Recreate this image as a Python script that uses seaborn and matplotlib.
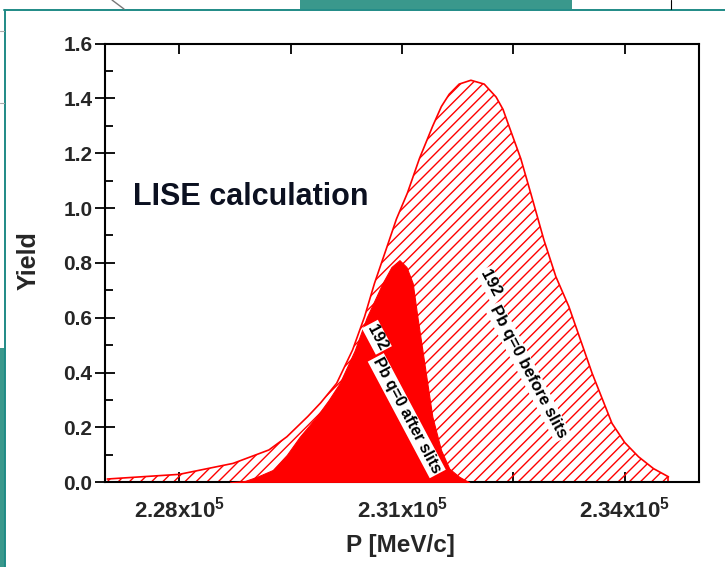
import matplotlib
matplotlib.use("Agg")
import matplotlib.pyplot as plt
import matplotlib.patches as mpatches
import matplotlib.lines as mlines
from matplotlib.ticker import MultipleLocator, FixedLocator, FuncFormatter
import seaborn as sns
import pandas as pd

# ---- data ----
before_p = [227030, 228000, 228725, 229208, 229449, 229731, 229905, 230120, 230335,
            230496, 230630, 230787, 230925, 231073, 231234, 231412, 231530, 231636,
            231770, 231928, 232107, 232267, 232360, 232442, 232600, 232733, 232911,
            233072, 233247, 233560, 233828, 234000, 234186, 234387, 234589]
before_y = [0.012, 0.029, 0.069, 0.118, 0.166, 0.24, 0.29, 0.361, 0.483,
            0.604, 0.726, 0.85, 0.96, 1.055, 1.18, 1.298, 1.37, 1.415,
            1.452, 1.466, 1.452, 1.405, 1.36, 1.298, 1.18, 1.055, 0.884,
            0.75, 0.641, 0.398, 0.215, 0.145, 0.093, 0.05, 0.02]

after_p = [228684, 228886, 229046, 229261, 229449, 229623, 229852, 230013, 230160,
           230362, 230523, 230738, 230858, 230966, 231060, 231144, 231207, 231274,
           231341, 231408, 231525, 231637, 231771, 231905]
after_y = [0.0, 0.005, 0.02, 0.045, 0.10, 0.166, 0.24, 0.30, 0.361,
           0.48, 0.60, 0.726, 0.785, 0.81, 0.785, 0.726, 0.604, 0.483,
           0.361, 0.24, 0.118, 0.05, 0.02, 0.0]

x_major = [228000, 231000, 234000]
x_minor = [229500, 232500]
label_before = "Pb q=0 before slits"
label_after = "Pb q=0 after slits"
iso = "192"
title_text = "LISE calculation"
xlabel = "P [MeV/c]"
ylabel = "Yield"

sns.set_theme(style="white")
plt.rcParams["font.family"] = ["Liberation Sans", "DejaVu Sans"]
plt.rcParams["font.weight"] = "bold"
plt.rcParams["mathtext.fontset"] = "custom"
plt.rcParams["mathtext.rm"] = "Liberation Sans:bold"
plt.rcParams["mathtext.bf"] = "Liberation Sans:bold"
plt.rcParams["mathtext.default"] = "bf"
plt.rcParams["hatch.linewidth"] = 1.0
plt.rcParams["hatch.color"] = "#ff0000"

W, H = 725, 567
fig = plt.figure(figsize=(W / 100, H / 100), dpi=100)
fig.patch.set_facecolor("white")

# ---- slide decorations around the chart ----
teal = "#3a988c"
teal_dark = "#1f8a86"
def px_rect(x0, y0, x1, y1, **kw):
    fig.patches.append(mpatches.Rectangle((x0 / W, 1 - y1 / H), (x1 - x0) / W, (y1 - y0) / H,
                                          transform=fig.transFigure, figure=fig, **kw))
def px_line(x0, y0, x1, y1, **kw):
    fig.lines.append(mlines.Line2D([x0 / W, x1 / W], [1 - y0 / H, 1 - y1 / H],
                                   transform=fig.transFigure, figure=fig, **kw))
px_rect(300, 0, 572, 9, color=teal, lw=0)
px_rect(0, 348, 5, H, color=teal, lw=0)
px_line(4, 9.5, W, 9.5, color=teal_dark, lw=1.4)
px_line(5, 9.5, 5, H, color=teal_dark, lw=1.4)
px_line(671, 0, 671, 9, color="black", lw=0.8)
px_line(112, 0, 124, 9, color="#777777", lw=1.0)
px_line(0, 31, 4, 31, color="#aaaaaa", lw=0.8)
px_line(0, 103, 4, 103, color="#aaaaaa", lw=0.8)

left, right, top, bottom = 105, 699, 43.5, 482.3
ax = fig.add_axes([left / W, 1 - bottom / H, (right - left) / W, (bottom - top) / H])
ax.set_facecolor("white")

df_b = pd.DataFrame({"P": before_p, "Yield": before_y})
df_a = pd.DataFrame({"P": after_p, "Yield": after_y})

ax.fill_between(df_b["P"], 0, df_b["Yield"], facecolor="none", edgecolor="#ff0000",
                hatch="///", linewidth=0.0, zorder=1)
sns.lineplot(data=df_b, x="P", y="Yield", ax=ax, color="#ff0000", linewidth=1.2,
             estimator=None, sort=False, zorder=2)
ax.vlines(before_p[-1], 0, before_y[-1], color="#ff0000", linewidth=1.2, zorder=2)
ax.fill_between(df_a["P"], 0, df_a["Yield"], facecolor="#ff0000", edgecolor="#ff0000",
                linewidth=0.8, zorder=3)

ax.set_xlim(227000, 235000)
ax.set_ylim(0, 1.6)
ax.xaxis.set_major_locator(FixedLocator(x_major))
ax.xaxis.set_minor_locator(FixedLocator(x_minor))
ax.xaxis.set_major_formatter(FuncFormatter(lambda v, p: f"{v / 1e5:.2f}x10$^5$"))
ax.yaxis.set_major_locator(MultipleLocator(0.2))
ax.yaxis.set_minor_locator(MultipleLocator(0.1))
ax.yaxis.set_major_formatter(FuncFormatter(lambda v, p: f"{v:.1f}"))

for s in ax.spines.values():
    s.set_color("black")
    s.set_linewidth(1.5)
    s.set_visible(True)

ax.tick_params(axis="x", which="both", direction="in", top=True, bottom=True,
               length=7, width=1.3, color="black", labelsize=16, pad=10)
ax.tick_params(axis="y", which="major", direction="inout", left=True, right=False,
               length=14, width=1.3, color="black", labelsize=15, pad=2)
ax.tick_params(axis="y", which="minor", direction="in", left=True, right=False,
               length=6, width=1.3, color="black")
for lab in ax.get_xticklabels() + ax.get_yticklabels():
    lab.set_fontweight("bold")

ax.set_xlabel(xlabel, fontsize=17.5, fontweight="bold")
ax.set_ylabel(ylabel, fontsize=18, fontweight="bold")
ax.xaxis.set_label_coords(0.498, -0.118)
ax.yaxis.set_label_coords(-0.108, 0.505)

ax.text(0.047, 0.650, title_text, transform=ax.transAxes, fontsize=22, fontweight="bold",
        color="#0b1020", ha="left", va="center")

box = dict(facecolor="white", edgecolor="none", pad=1.2)
txt_kw = dict(rotation=-62, rotation_mode="anchor", ha="center", va="center",
              fontweight="bold", color="black", bbox=box, zorder=5)
ax.text(232697, 0.403, label_before, fontsize=12, **txt_kw)
ax.text(232196, 0.726, iso, fontsize=12, **txt_kw)
ax.text(231064, 0.243, label_after, fontsize=11.5, **txt_kw)
ax.text(230661, 0.529, iso, fontsize=11.5, **txt_kw)

fig.savefig("out.png", dpi=100)
